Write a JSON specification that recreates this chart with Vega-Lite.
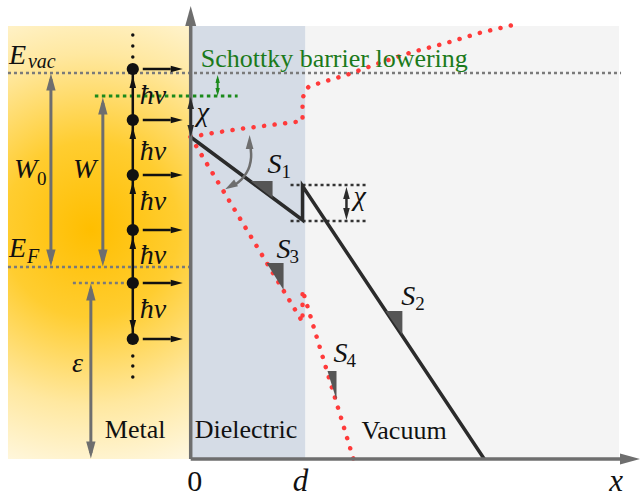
{
  "$schema": "https://vega.github.io/schema/vega-lite/v6.json",
  "width": 640,
  "height": 497,
  "autosize": {"type": "fit", "contains": "padding"},
  "padding": 0,
  "background": "white",
  "config": {"view": {"stroke": null}},
  "datasets": {
    "regions": [
      {"name": "metal", "x": -183, "x2": 0, "y": 0, "y2": 433},
      {"name": "dielectric", "x": 0, "x2": 115, "y": 0, "y2": 433},
      {"name": "vacuum", "x": 115, "x2": 429, "y": 0, "y2": 433}
    ],
    "paths": [
      {"id": "evac", "kind": "level", "i": 0, "x": -183, "y": 386},
      {"id": "evac", "kind": "level", "i": 1, "x": 431, "y": 386},
      {"id": "ef", "kind": "level", "i": 0, "x": -183, "y": 192},
      {"id": "ef", "kind": "level", "i": 1, "x": 0, "y": 192},
      {"id": "eps", "kind": "level", "i": 0, "x": -118, "y": 176},
      {"id": "eps", "kind": "level", "i": 1, "x": -66, "y": 176},
      {"id": "sch", "kind": "lowered", "i": 0, "x": -96, "y": 363},
      {"id": "sch", "kind": "lowered", "i": 1, "x": 47, "y": 363},
      {"id": "g1", "kind": "guide", "i": 0, "x": 100, "y": 274},
      {"id": "g1", "kind": "guide", "i": 1, "x": 176, "y": 274},
      {"id": "g2", "kind": "guide", "i": 0, "x": 100, "y": 238},
      {"id": "g2", "kind": "guide", "i": 1, "x": 176, "y": 238},
      {"id": "up", "kind": "model", "i": 0, "x": 0, "y": 322},
      {"id": "up", "kind": "model", "i": 1, "x": 22, "y": 326},
      {"id": "up", "kind": "model", "i": 2, "x": 56, "y": 331},
      {"id": "up", "kind": "model", "i": 3, "x": 89, "y": 335},
      {"id": "up", "kind": "model", "i": 4, "x": 112, "y": 338},
      {"id": "up", "kind": "model", "i": 5, "x": 112, "y": 359},
      {"id": "up", "kind": "model", "i": 6, "x": 114, "y": 368},
      {"id": "up", "kind": "model", "i": 7, "x": 118, "y": 372},
      {"id": "up", "kind": "model", "i": 8, "x": 129, "y": 376},
      {"id": "up", "kind": "model", "i": 9, "x": 156, "y": 384},
      {"id": "up", "kind": "model", "i": 10, "x": 189, "y": 396},
      {"id": "up", "kind": "model", "i": 11, "x": 222, "y": 407},
      {"id": "up", "kind": "model", "i": 12, "x": 256, "y": 416},
      {"id": "up", "kind": "model", "i": 13, "x": 289, "y": 426},
      {"id": "up", "kind": "model", "i": 14, "x": 327, "y": 435},
      {"id": "down", "kind": "model", "i": 0, "x": 0, "y": 322},
      {"id": "down", "kind": "model", "i": 1, "x": 112, "y": 137},
      {"id": "down", "kind": "model", "i": 2, "x": 112, "y": 169},
      {"id": "down", "kind": "model", "i": 3, "x": 163, "y": 0},
      {"id": "s", "kind": "barrier", "i": 0, "x": 0, "y": 322},
      {"id": "s", "kind": "barrier", "i": 1, "x": 112, "y": 239},
      {"id": "s", "kind": "barrier", "i": 2, "x": 112, "y": 273},
      {"id": "s", "kind": "barrier", "i": 3, "x": 294, "y": 0},
      {"id": "ya", "kind": "axis", "i": 0, "x": 0, "y": 0},
      {"id": "ya", "kind": "axis", "i": 1, "x": 0, "y": 436},
      {"id": "xa", "kind": "axis", "i": 0, "x": 0, "y": 0},
      {"id": "xa", "kind": "axis", "i": 1, "x": 433, "y": 0},
      {"id": "w0", "kind": "gap", "i": 0, "x": -140, "y": 380},
      {"id": "w0", "kind": "gap", "i": 1, "x": -140, "y": 198},
      {"id": "w", "kind": "gap", "i": 0, "x": -88, "y": 356},
      {"id": "w", "kind": "gap", "i": 1, "x": -88, "y": 198},
      {"id": "e", "kind": "gap", "i": 0, "x": -100, "y": 170},
      {"id": "e", "kind": "gap", "i": 1, "x": -100, "y": 6},
      {"id": "arc", "kind": "arc", "i": 0, "x": 60, "y": 311},
      {"id": "arc", "kind": "arc", "i": 1, "x": 61, "y": 302},
      {"id": "arc", "kind": "arc", "i": 2, "x": 59, "y": 292},
      {"id": "arc", "kind": "arc", "i": 3, "x": 56, "y": 286},
      {"id": "arc", "kind": "arc", "i": 4, "x": 51, "y": 279},
      {"id": "arc", "kind": "arc", "i": 5, "x": 44, "y": 274},
      {"id": "v", "kind": "photon", "i": 0, "x": -58, "y": 390},
      {"id": "v", "kind": "photon", "i": 1, "x": -58, "y": 120},
      {"id": "h1", "kind": "photon", "i": 0, "x": -48, "y": 390},
      {"id": "h1", "kind": "photon", "i": 1, "x": -20, "y": 390},
      {"id": "h2", "kind": "photon", "i": 0, "x": -48, "y": 339},
      {"id": "h2", "kind": "photon", "i": 1, "x": -20, "y": 339},
      {"id": "h3", "kind": "photon", "i": 0, "x": -48, "y": 284},
      {"id": "h3", "kind": "photon", "i": 1, "x": -20, "y": 284},
      {"id": "h4", "kind": "photon", "i": 0, "x": -48, "y": 229},
      {"id": "h4", "kind": "photon", "i": 1, "x": -20, "y": 229},
      {"id": "h5", "kind": "photon", "i": 0, "x": -48, "y": 176},
      {"id": "h5", "kind": "photon", "i": 1, "x": -20, "y": 176},
      {"id": "h6", "kind": "photon", "i": 0, "x": -48, "y": 120},
      {"id": "h6", "kind": "photon", "i": 1, "x": -20, "y": 120},
      {"id": "chi1", "kind": "offset", "i": 0, "x": 0, "y": 356},
      {"id": "chi1", "kind": "offset", "i": 1, "x": 0, "y": 328},
      {"id": "chi2", "kind": "offset", "i": 0, "x": 156, "y": 266},
      {"id": "chi2", "kind": "offset", "i": 1, "x": 156, "y": 245},
      {"id": "sb", "kind": "shift", "i": 0, "x": 27, "y": 380},
      {"id": "sb", "kind": "shift", "i": 1, "x": 27, "y": 367}
    ],
    "heads": [
      {"kind": "axis", "dir": "up", "x": 0, "y": 443},
      {"kind": "axis", "dir": "right", "x": 440, "y": 0},
      {"kind": "gap", "dir": "up", "x": -140, "y": 377},
      {"kind": "gap", "dir": "down", "x": -140, "y": 201},
      {"kind": "gap", "dir": "up", "x": -88, "y": 353},
      {"kind": "gap", "dir": "down", "x": -88, "y": 201},
      {"kind": "gap", "dir": "up", "x": -100, "y": 167},
      {"kind": "gap", "dir": "down", "x": -100, "y": 9},
      {"kind": "arc", "dir": "up", "x": 59, "y": 317},
      {"kind": "arc", "dir": "downleft", "x": 40, "y": 273},
      {"kind": "photon", "dir": "right", "x": -14, "y": 390},
      {"kind": "photon", "dir": "right", "x": -14, "y": 339},
      {"kind": "photon", "dir": "right", "x": -14, "y": 284},
      {"kind": "photon", "dir": "right", "x": -14, "y": 229},
      {"kind": "photon", "dir": "right", "x": -14, "y": 176},
      {"kind": "photon", "dir": "right", "x": -14, "y": 120},
      {"kind": "photon", "dir": "up", "x": -58, "y": 377},
      {"kind": "photon", "dir": "up", "x": -58, "y": 326},
      {"kind": "photon", "dir": "up", "x": -58, "y": 271},
      {"kind": "photon", "dir": "up", "x": -58, "y": 216},
      {"kind": "photon", "dir": "down", "x": -58, "y": 133},
      {"kind": "offset", "dir": "up", "x": 0, "y": 356},
      {"kind": "offset", "dir": "down", "x": 0, "y": 328},
      {"kind": "offset", "dir": "up", "x": 156, "y": 266},
      {"kind": "offset", "dir": "down", "x": 156, "y": 245},
      {"kind": "shift", "dir": "up", "x": 27, "y": 380},
      {"kind": "shift", "dir": "down", "x": 27, "y": 367}
    ],
    "slopes": [
      {"id": "S1", "x": 60, "y": 278, "y2": 278},
      {"id": "S1", "x": 82, "y": 261, "y2": 278},
      {"id": "S2", "x": 195, "y": 148, "y2": 148},
      {"id": "S2", "x": 212, "y": 124, "y2": 148},
      {"id": "S3", "x": 76, "y": 196, "y2": 196},
      {"id": "S3", "x": 93, "y": 169, "y2": 196},
      {"id": "S4", "x": 137, "y": 88, "y2": 88},
      {"id": "S4", "x": 146, "y": 59, "y2": 88}
    ],
    "electrons": [
      {"kind": "electron", "x": -58, "y": 390},
      {"kind": "electron", "x": -58, "y": 339},
      {"kind": "electron", "x": -58, "y": 284},
      {"kind": "electron", "x": -58, "y": 229},
      {"kind": "electron", "x": -58, "y": 176},
      {"kind": "electron", "x": -58, "y": 120},
      {"kind": "ellipsis", "x": -58, "y": 424},
      {"kind": "ellipsis", "x": -58, "y": 413},
      {"kind": "ellipsis", "x": -58, "y": 402},
      {"kind": "ellipsis", "x": -58, "y": 103},
      {"kind": "ellipsis", "x": -58, "y": 93},
      {"kind": "ellipsis", "x": -58, "y": 82}
    ],
    "labels": [
      {"role": "sym", "text": "E", "x": -182, "y": 395},
      {"role": "sub", "text": "vac", "x": -163, "y": 391},
      {"role": "sym", "text": "E", "x": -182, "y": 202},
      {"role": "sub", "text": "F", "x": -164, "y": 196},
      {"role": "sym", "text": "W", "x": -177, "y": 281},
      {"role": "subnum", "text": "0", "x": -154, "y": 274},
      {"role": "sym", "text": "W", "x": -118, "y": 281},
      {"role": "sym", "text": "χ", "x": 6, "y": 338},
      {"role": "sym", "text": "χ", "x": 163, "y": 254},
      {"role": "sym", "text": "S", "x": 77, "y": 286},
      {"role": "subnum", "text": "1", "x": 91, "y": 281},
      {"role": "sym", "text": "S", "x": 211, "y": 154},
      {"role": "subnum", "text": "2", "x": 225, "y": 149},
      {"role": "sym", "text": "S", "x": 86, "y": 201},
      {"role": "subnum", "text": "3", "x": 99, "y": 196},
      {"role": "sym", "text": "S", "x": 143, "y": 97},
      {"role": "subnum", "text": "4", "x": 156, "y": 92},
      {"role": "sym", "text": "ħν", "x": -51, "y": 355},
      {"role": "sym", "text": "ħν", "x": -51, "y": 299},
      {"role": "sym", "text": "ħν", "x": -51, "y": 249},
      {"role": "sym", "text": "ħν", "x": -51, "y": 195},
      {"role": "sym", "text": "ħν", "x": -51, "y": 141},
      {"role": "sym", "text": "ε", "x": -119, "y": 87},
      {"role": "tick", "text": "d", "x": 110, "y": -32},
      {"role": "tick", "text": "x", "x": 426, "y": -32},
      {"role": "origin", "text": "0", "x": 4, "y": -32},
      {"role": "region", "text": "Metal", "x": -86, "y": 21},
      {"role": "region", "text": "Dielectric", "x": 4, "y": 21},
      {"role": "region", "text": "Vacuum", "x": 171, "y": 20},
      {"role": "note", "text": "Schottky barrier lowering", "x": 10, "y": 392}
    ]
  },
  "encoding": {
    "x": {"field": "x", "type": "quantitative", "axis": null,
          "scale": {"domain": [-191, 449], "nice": false, "zero": false}},
    "y": {"field": "y", "type": "quantitative", "axis": null,
          "scale": {"domain": [-38, 459], "nice": false, "zero": false}}
  },
  "layer": [
    {
      "data": {"name": "regions"},
      "transform": [{"filter": "datum.name === 'metal'"}],
      "mark": {"type": "rect", "strokeWidth": 0,
        "fill": {"gradient": "radial", "x1": 0.48, "y1": 0.47, "x2": 0.48, "y2": 0.47, "r1": 0, "r2": 0.58,
          "stops": [
            {"offset": 0, "color": "#ffbe00"},
            {"offset": 0.35, "color": "#ffcd30"},
            {"offset": 0.7, "color": "#ffe8a0"},
            {"offset": 1, "color": "#fff8e2"}
          ]}},
      "encoding": {"x2": {"field": "x2"}, "y2": {"field": "y2"}}
    },
    {
      "data": {"name": "regions"},
      "transform": [{"filter": "datum.name !== 'metal'"}],
      "mark": {"type": "rect", "strokeWidth": 0},
      "encoding": {
        "x2": {"field": "x2"}, "y2": {"field": "y2"},
        "fill": {"field": "name", "type": "nominal", "legend": null,
                 "scale": {"domain": ["dielectric", "vacuum"], "range": ["#d5dce6", "#f4f4f4"]}}
      }
    },
    {
      "data": {"name": "paths"},
      "transform": [{"filter": "datum.kind === 'level'"}],
      "mark": {"type": "line", "color": "#7a7a7a", "strokeWidth": 2.5, "strokeDash": [3, 3]},
      "encoding": {"detail": {"field": "id"}, "order": {"field": "i", "type": "quantitative"}}
    },
    {
      "data": {"name": "paths"},
      "transform": [{"filter": "datum.kind === 'lowered'"}],
      "mark": {"type": "line", "color": "#1b8a1b", "strokeWidth": 3, "strokeDash": [3.5, 3.5]},
      "encoding": {"detail": {"field": "id"}, "order": {"field": "i", "type": "quantitative"}}
    },
    {
      "data": {"name": "paths"},
      "transform": [{"filter": "datum.kind === 'model'"}],
      "mark": {"type": "line", "color": "#ff3a3a", "strokeWidth": 4.5, "strokeCap": "round", "strokeDash": [0.1, 10.5]},
      "encoding": {"detail": {"field": "id"}, "order": {"field": "i", "type": "quantitative"}}
    },
    {
      "data": {"name": "paths"},
      "transform": [{"filter": "datum.kind === 'guide'"}],
      "mark": {"type": "line", "color": "#333333", "strokeWidth": 2.5, "strokeDash": [3, 3]},
      "encoding": {"detail": {"field": "id"}, "order": {"field": "i", "type": "quantitative"}}
    },
    {
      "data": {"name": "paths"},
      "transform": [{"filter": "datum.kind === 'barrier'"}],
      "mark": {"type": "line", "color": "#2b2b2b", "strokeWidth": 3.5, "strokeJoin": "miter"},
      "encoding": {"detail": {"field": "id"}, "order": {"field": "i", "type": "quantitative"}}
    },
    {
      "data": {"name": "slopes"},
      "mark": {"type": "area", "color": "#555555", "opacity": 1},
      "encoding": {"y2": {"field": "y2"}, "detail": {"field": "id"}}
    },
    {
      "data": {"name": "paths"},
      "transform": [{"filter": "datum.kind === 'axis'"}],
      "mark": {"type": "line", "color": "#6e6e6e", "strokeWidth": 3.5},
      "encoding": {"detail": {"field": "id"}, "order": {"field": "i", "type": "quantitative"}}
    },
    {
      "data": {"name": "paths"},
      "transform": [{"filter": "datum.kind === 'gap'"}],
      "mark": {"type": "line", "color": "#6e6e6e", "strokeWidth": 3},
      "encoding": {"detail": {"field": "id"}, "order": {"field": "i", "type": "quantitative"}}
    },
    {
      "data": {"name": "paths"},
      "transform": [{"filter": "datum.kind === 'arc'"}],
      "mark": {"type": "line", "color": "#6e6e6e", "strokeWidth": 2.5, "interpolate": "basis"},
      "encoding": {"detail": {"field": "id"}, "order": {"field": "i", "type": "quantitative"}}
    },
    {
      "data": {"name": "paths"},
      "transform": [{"filter": "datum.kind === 'photon'"}],
      "mark": {"type": "line", "color": "#111111", "strokeWidth": 2.5},
      "encoding": {"detail": {"field": "id"}, "order": {"field": "i", "type": "quantitative"}}
    },
    {
      "data": {"name": "paths"},
      "transform": [{"filter": "datum.kind === 'offset'"}],
      "mark": {"type": "line", "color": "#2b2b2b", "strokeWidth": 2.5},
      "encoding": {"detail": {"field": "id"}, "order": {"field": "i", "type": "quantitative"}}
    },
    {
      "data": {"name": "paths"},
      "transform": [{"filter": "datum.kind === 'shift'"}],
      "mark": {"type": "line", "color": "#1b8a1b", "strokeWidth": 2},
      "encoding": {"detail": {"field": "id"}, "order": {"field": "i", "type": "quantitative"}}
    },
    {
      "data": {"name": "heads"},
      "transform": [{"filter": "datum.kind === 'axis'"}],
      "mark": {"type": "point", "filled": true, "opacity": 1, "size": 400, "color": "#6e6e6e", "strokeWidth": 0},
      "encoding": {"shape": {"field": "dir", "type": "nominal", "legend": null,
        "scale": {"domain": ["up", "down", "left", "right", "downleft"],
                  "range": ["M-0.55,1L0,-1L0.55,1Z", "M-0.55,-1L0,1L0.55,-1Z", "M1,-0.55L-1,0L1,0.55Z", "M-1,-0.55L1,0L-1,0.55Z", "M-0.78,0.45L1.05,0.03L0.5,-0.93Z"]}}}
    },
    {
      "data": {"name": "heads"},
      "transform": [{"filter": "datum.kind === 'gap'"}],
      "mark": {"type": "point", "filled": true, "opacity": 1, "size": 289, "color": "#6e6e6e", "strokeWidth": 0},
      "encoding": {"shape": {"field": "dir", "type": "nominal", "legend": null,
        "scale": {"domain": ["up", "down", "left", "right", "downleft"],
                  "range": ["M-0.55,1L0,-1L0.55,1Z", "M-0.55,-1L0,1L0.55,-1Z", "M1,-0.55L-1,0L1,0.55Z", "M-1,-0.55L1,0L-1,0.55Z", "M-0.78,0.45L1.05,0.03L0.5,-0.93Z"]}}}
    },
    {
      "data": {"name": "heads"},
      "transform": [{"filter": "datum.kind === 'arc'"}],
      "mark": {"type": "point", "filled": true, "opacity": 1, "size": 196, "color": "#6e6e6e", "strokeWidth": 0},
      "encoding": {"shape": {"field": "dir", "type": "nominal", "legend": null,
        "scale": {"domain": ["up", "down", "left", "right", "downleft"],
                  "range": ["M-0.55,1L0,-1L0.55,1Z", "M-0.55,-1L0,1L0.55,-1Z", "M1,-0.55L-1,0L1,0.55Z", "M-1,-0.55L1,0L-1,0.55Z", "M-0.78,0.45L1.05,0.03L0.5,-0.93Z"]}}}
    },
    {
      "data": {"name": "heads"},
      "transform": [{"filter": "datum.kind === 'photon'"}],
      "mark": {"type": "point", "filled": true, "opacity": 1, "size": 144, "color": "#111111", "strokeWidth": 0},
      "encoding": {"shape": {"field": "dir", "type": "nominal", "legend": null,
        "scale": {"domain": ["up", "down", "left", "right", "downleft"],
                  "range": ["M-0.55,1L0,-1L0.55,1Z", "M-0.55,-1L0,1L0.55,-1Z", "M1,-0.55L-1,0L1,0.55Z", "M-1,-0.55L1,0L-1,0.55Z", "M-0.78,0.45L1.05,0.03L0.5,-0.93Z"]}}}
    },
    {
      "data": {"name": "heads"},
      "transform": [{"filter": "datum.kind === 'offset'"}],
      "mark": {"type": "point", "filled": true, "opacity": 1, "size": 144, "color": "#2b2b2b", "strokeWidth": 0},
      "encoding": {"shape": {"field": "dir", "type": "nominal", "legend": null,
        "scale": {"domain": ["up", "down", "left", "right", "downleft"],
                  "range": ["M-0.55,1L0,-1L0.55,1Z", "M-0.55,-1L0,1L0.55,-1Z", "M1,-0.55L-1,0L1,0.55Z", "M-1,-0.55L1,0L-1,0.55Z", "M-0.78,0.45L1.05,0.03L0.5,-0.93Z"]}}}
    },
    {
      "data": {"name": "heads"},
      "transform": [{"filter": "datum.kind === 'shift'"}],
      "mark": {"type": "point", "filled": true, "opacity": 1, "size": 64, "color": "#1b8a1b", "strokeWidth": 0},
      "encoding": {"shape": {"field": "dir", "type": "nominal", "legend": null,
        "scale": {"domain": ["up", "down", "left", "right", "downleft"],
                  "range": ["M-0.55,1L0,-1L0.55,1Z", "M-0.55,-1L0,1L0.55,-1Z", "M1,-0.55L-1,0L1,0.55Z", "M-1,-0.55L1,0L-1,0.55Z", "M-0.78,0.45L1.05,0.03L0.5,-0.93Z"]}}}
    },
    {
      "data": {"name": "electrons"},
      "transform": [{"filter": "datum.kind === 'electron'"}],
      "mark": {"type": "circle", "size": 150, "opacity": 1, "color": "#111111"}
    },
    {
      "data": {"name": "electrons"},
      "transform": [{"filter": "datum.kind === 'ellipsis'"}],
      "mark": {"type": "circle", "size": 12, "opacity": 1, "color": "#111111"}
    },
    {
      "data": {"name": "labels"},
      "transform": [{"filter": "datum.role === 'sym'"}],
      "mark": {"type": "text", "font": "Liberation Serif", "fontStyle": "italic", "fontSize": 28, "align": "left", "baseline": "alphabetic", "color": "#111111"},
      "encoding": {"text": {"field": "text"}}
    },
    {
      "data": {"name": "labels"},
      "transform": [{"filter": "datum.role === 'sub'"}],
      "mark": {"type": "text", "font": "Liberation Serif", "fontStyle": "italic", "fontSize": 20, "align": "left", "baseline": "alphabetic", "color": "#111111"},
      "encoding": {"text": {"field": "text"}}
    },
    {
      "data": {"name": "labels"},
      "transform": [{"filter": "datum.role === 'subnum'"}],
      "mark": {"type": "text", "font": "Liberation Serif", "fontSize": 19, "align": "left", "baseline": "alphabetic", "color": "#111111"},
      "encoding": {"text": {"field": "text"}}
    },
    {
      "data": {"name": "labels"},
      "transform": [{"filter": "datum.role === 'tick'"}],
      "mark": {"type": "text", "font": "Liberation Serif", "fontStyle": "italic", "fontSize": 31, "align": "center", "baseline": "alphabetic", "color": "#111111"},
      "encoding": {"text": {"field": "text"}}
    },
    {
      "data": {"name": "labels"},
      "transform": [{"filter": "datum.role === 'origin'"}],
      "mark": {"type": "text", "font": "Liberation Serif", "fontSize": 30, "align": "center", "baseline": "alphabetic", "color": "#111111"},
      "encoding": {"text": {"field": "text"}}
    },
    {
      "data": {"name": "labels"},
      "transform": [{"filter": "datum.role === 'region'"}],
      "mark": {"type": "text", "font": "Liberation Serif", "fontSize": 26, "align": "left", "baseline": "alphabetic", "color": "#111111"},
      "encoding": {"text": {"field": "text"}}
    },
    {
      "data": {"name": "labels"},
      "transform": [{"filter": "datum.role === 'note'"}],
      "mark": {"type": "text", "font": "Liberation Serif", "fontSize": 26, "align": "left", "baseline": "alphabetic", "color": "#1b7a1b"},
      "encoding": {"text": {"field": "text"}}
    }
  ]
}
